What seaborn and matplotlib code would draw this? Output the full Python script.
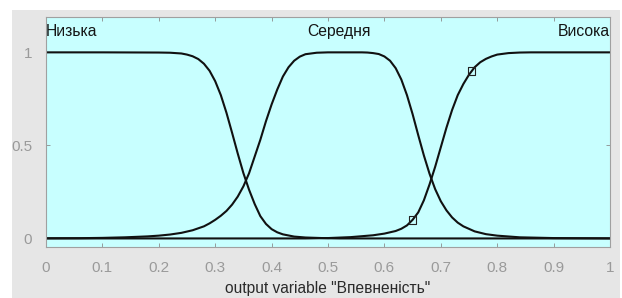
import numpy as np
import pandas as pd
import matplotlib
matplotlib.use("Agg")
import matplotlib.pyplot as plt
import seaborn as sns
from matplotlib.patches import Rectangle

# membership curves (denser points where the curves bend)
low_x = [0.00, 0.10, 0.20, 0.22, 0.24, 0.25, 0.26, 0.27, 0.28, 0.29,
         0.30, 0.31, 0.32, 0.33, 0.34, 0.35, 0.36, 0.37, 0.38, 0.39,
         0.40, 0.41, 0.42, 0.44, 0.46, 0.48, 0.50, 0.52, 1.00]
low_mu = [1.0, 1.0, 0.999, 0.998, 0.994, 0.988, 0.979, 0.964, 0.939, 0.901,
          0.845, 0.77, 0.675, 0.567, 0.456, 0.351, 0.262, 0.185, 0.12, 0.078,
          0.05, 0.033, 0.022, 0.01, 0.005, 0.003, 0.001, 0.0, 0.0]

mid_x = [0.00, 0.06, 0.10, 0.14, 0.18, 0.20, 0.22, 0.24, 0.26, 0.28,
         0.29, 0.30, 0.31, 0.32, 0.33, 0.34, 0.35, 0.36, 0.37, 0.38,
         0.39, 0.40, 0.41, 0.42, 0.43, 0.44, 0.45, 0.46, 0.48, 0.50,
         0.56, 0.57, 0.58, 0.59, 0.60, 0.61, 0.62, 0.63, 0.64, 0.65,
         0.66, 0.67, 0.68, 0.69, 0.70, 0.71, 0.72, 0.73, 0.74, 0.76,
         0.78, 0.80, 0.84, 0.90, 1.00]
mid_mu = [0.001, 0.0015, 0.003, 0.006, 0.011, 0.015, 0.021, 0.03, 0.044, 0.065,
          0.081, 0.10, 0.122, 0.148, 0.182, 0.225, 0.28, 0.35, 0.44, 0.53,
          0.63, 0.72, 0.80, 0.87, 0.92, 0.955, 0.977, 0.99, 0.998, 1.0,
          1.0, 0.999, 0.996, 0.991, 0.978, 0.955, 0.915, 0.854, 0.77, 0.668,
          0.555, 0.446, 0.348, 0.265, 0.20, 0.151, 0.113, 0.085, 0.065, 0.038,
          0.023, 0.015, 0.006, 0.002, 0.0005]

high_x = [0.00, 0.46, 0.50, 0.54, 0.58, 0.60, 0.62, 0.63, 0.64, 0.65,
          0.66, 0.67, 0.68, 0.69, 0.70, 0.71, 0.72, 0.73, 0.74, 0.75,
          0.76, 0.77, 0.78, 0.79, 0.80, 0.82, 0.84, 0.86, 1.00]
high_mu = [0.0, 0.0, 0.002, 0.007, 0.017, 0.026, 0.04, 0.052, 0.07, 0.10,
           0.14, 0.205, 0.29, 0.385, 0.49, 0.595, 0.69, 0.77, 0.83, 0.88,
           0.92, 0.947, 0.965, 0.978, 0.988, 0.996, 0.999, 1.0, 1.0]

terms = ["Низька", "Середня", "Висока"]
label_x = [0.0, 0.52, 1.0]

# the two square handles on the selected curve
handle_x = [0.65, 0.755]
handle_y = [0.1, 0.9]

x_ticks = [0, 0.1, 0.2, 0.3, 0.4, 0.5, 0.6, 0.7, 0.8, 0.9, 1]
x_tick_labels = ["0", "0.1", "0.2", "0.3", "0.4", "0.5", "0.6", "0.7", "0.8", "0.9", "1"]
y_ticks = [0, 0.5, 1]
y_tick_labels = ["0", "0.5", "1"]
x_title = 'output variable "Впевненість"'

df = pd.concat([
    pd.DataFrame({"x": low_x, "mu": low_mu, "term": terms[0]}),
    pd.DataFrame({"x": mid_x, "mu": mid_mu, "term": terms[1]}),
    pd.DataFrame({"x": high_x, "mu": high_mu, "term": terms[2]}),
])

sns.set_style("ticks")
plt.rcParams["font.family"] = ["Liberation Sans", "DejaVu Sans"]

fig = plt.figure(figsize=(6.22, 2.98), dpi=100, facecolor="white")
# grey window area behind the axes
fig.patches.append(Rectangle((12 / 622, 0), 608 / 622, 288 / 298,
                             transform=fig.transFigure, facecolor="#e6e6e6",
                             edgecolor="none", zorder=-10))

ax = fig.add_axes([46 / 622, 1 - 247 / 298, 564 / 622, 230 / 298])
ax.set_facecolor("#c8ffff")

sns.lineplot(data=df, x="x", y="mu", hue="term", units="term", estimator=None,
             sort=False, palette=["#111111"] * 3, linewidth=1.5, legend=False, ax=ax)
sns.scatterplot(x=handle_x, y=handle_y, marker="s", s=28, facecolor="none",
                edgecolor="#222222", linewidth=0.8, ax=ax, zorder=5)

label_ha = ["left", "center", "right"]
for name, lx, ha in zip(terms, label_x, label_ha):
    ax.text(lx, 1.11, name, ha=ha, va="center", fontsize=11.3, color="#151515")

ax.set_xlim(0, 1)
ax.set_ylim(-0.046, 1.19)
ax.set_xticks(x_ticks)
ax.set_xticklabels(x_tick_labels)
ax.set_yticks(y_ticks)
ax.set_yticklabels(y_tick_labels)
ax.tick_params(direction="in", length=3, width=0.6, colors="#8c8c8c",
               labelcolor="#9a9a9a", labelsize=11, top=True, right=True, pad=10)
ax.set_xlabel(x_title, fontsize=11.2, color="#2a2a2a", labelpad=4.5)
ax.set_ylabel("")
for side in ["left", "right", "top", "bottom"]:
    ax.spines[side].set_visible(True)
    ax.spines[side].set_color("#a0a0a0")
    ax.spines[side].set_linewidth(0.8)

fig.savefig("out.png", dpi=100, facecolor=fig.get_facecolor())
